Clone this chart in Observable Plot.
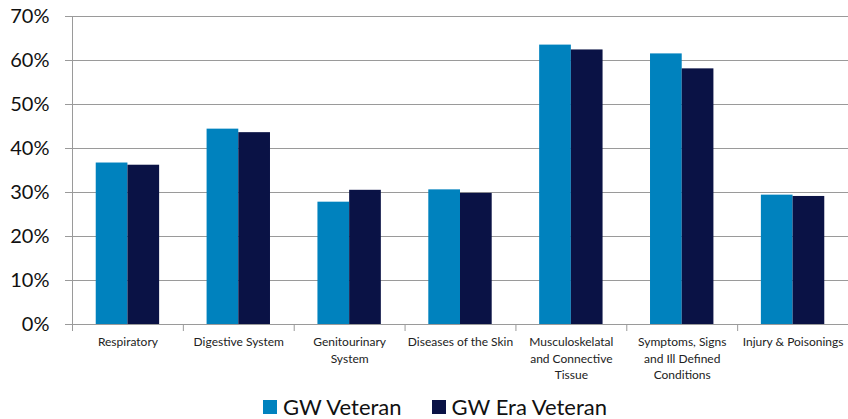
<!DOCTYPE html>
<html>
<head>
<meta charset="utf-8">
<script src="https://cdn.jsdelivr.net/npm/d3@7"></script>
<script src="https://cdn.jsdelivr.net/npm/@observablehq/plot@0.6"></script>
<style>
  body { margin: 0; background: #fff; font-family: Lato, "Open Sans", sans-serif; overflow: hidden; }
  #chart svg { display: block; }
  .legend { display: flex; align-items: center; padding-left: 263px; padding-top: 5px; height: 24px; font-size: 22px; line-height: 22px; color: #111; }
  .legend .item { display: flex; align-items: center; margin-right: 30px; }
  .legend .swatch { width: 14px; height: 14px; margin-right: 6px; }
</style>
</head>
<body>
<div id="chart"></div>
<div class="legend" id="legend"></div>
<script>
// Share of veterans with each diagnosis category (%)
const categories = [
  "Respiratory",
  "Digestive System",
  "Genitourinary System",
  "Diseases of the Skin",
  "Musculoskelatal and Connective Tissue",
  "Symptoms, Signs and Ill Defined Conditions",
  "Injury & Poisonings"
];
const categoryLabels = [
  "Respiratory",
  "Digestive System",
  "Genitourinary\nSystem",
  "Diseases of the Skin",
  "Musculoskelatal\nand Connective\nTissue",
  "Symptoms, Signs\nand Ill Defined\nConditions",
  "Injury & Poisonings"
];
const seriesNames = ["GW Veteran", "GW Era Veteran"];
const gwVeteran = [36.7, 44.4, 27.8, 30.6, 63.5, 61.5, 29.4];
const gwEraVeteran = [36.2, 43.6, 30.5, 29.8, 62.4, 58.1, 29.1];
const yTicks = [0, 10, 20, 30, 40, 50, 60, 70];
const colors = ["#0082be", "#0a1245"];

const width = 848, height = 390;
const marginLeft = 72, marginRight = 0, marginTop = 16, marginBottom = 66;
const band = (width - marginLeft - marginRight) / categories.length;
const barWidth = 31.7;

const rowsA = categories.map((c, i) => ({category: c, value: gwVeteran[i]}));
const rowsB = categories.map((c, i) => ({category: c, value: gwEraVeteran[i]}));
const labelOf = new Map(categories.map((c, i) => [c, categoryLabels[i]]));
const font = "Lato, 'Open Sans', sans-serif";

const chart = Plot.plot({
  width, height, marginLeft, marginRight, marginTop, marginBottom,
  style: {fontFamily: font, background: "#fff"},
  x: {domain: categories, padding: 0, round: false},
  y: {domain: [0, 70]},
  marks: [
    // horizontal gridlines (extend left as outside tick marks)
    Plot.ruleY(yTicks, {stroke: "#9a9a9a", strokeWidth: 1, insetLeft: -7}),
    // bars
    Plot.barY(rowsA, {x: "category", y: "value", fill: colors[0],
      insetLeft: band / 2 - barWidth, insetRight: band / 2}),
    Plot.barY(rowsB, {x: "category", y: "value", fill: colors[1],
      insetLeft: band / 2, insetRight: band / 2 - barWidth}),
    // vertical axis line
    Plot.ruleX([categories[0]], {x: d => d, dx: -band / 2, y1: 0, y2: 70, stroke: "#9a9a9a"}),
    // category boundary tick marks below the baseline
    Plot.ruleX(categories, {x: d => d, dx: -band / 2, y1: 0, y2: 0, insetTop: 0, insetBottom: -7, stroke: "#9a9a9a"}),
    Plot.axisY({ticks: yTicks, tickFormat: d => d + "%", tickSize: 0, tickPadding: 23,
      fontSize: 20, fill: "#111", label: null}),
    Plot.axisX({tickSize: 0, tickPadding: 10, fontSize: 12, fill: "#222", label: null,
      lineHeight: 1.375, tickFormat: d => labelOf.get(d)})
  ]
});
document.getElementById("chart").appendChild(chart);

// legend
const legend = d3.select("#legend");
seriesNames.forEach((name, i) => {
  const item = legend.append("div").attr("class", "item");
  item.append("div").attr("class", "swatch").style("background", colors[i]);
  item.append("span").text(name);
});
</script>
</body>
</html>
